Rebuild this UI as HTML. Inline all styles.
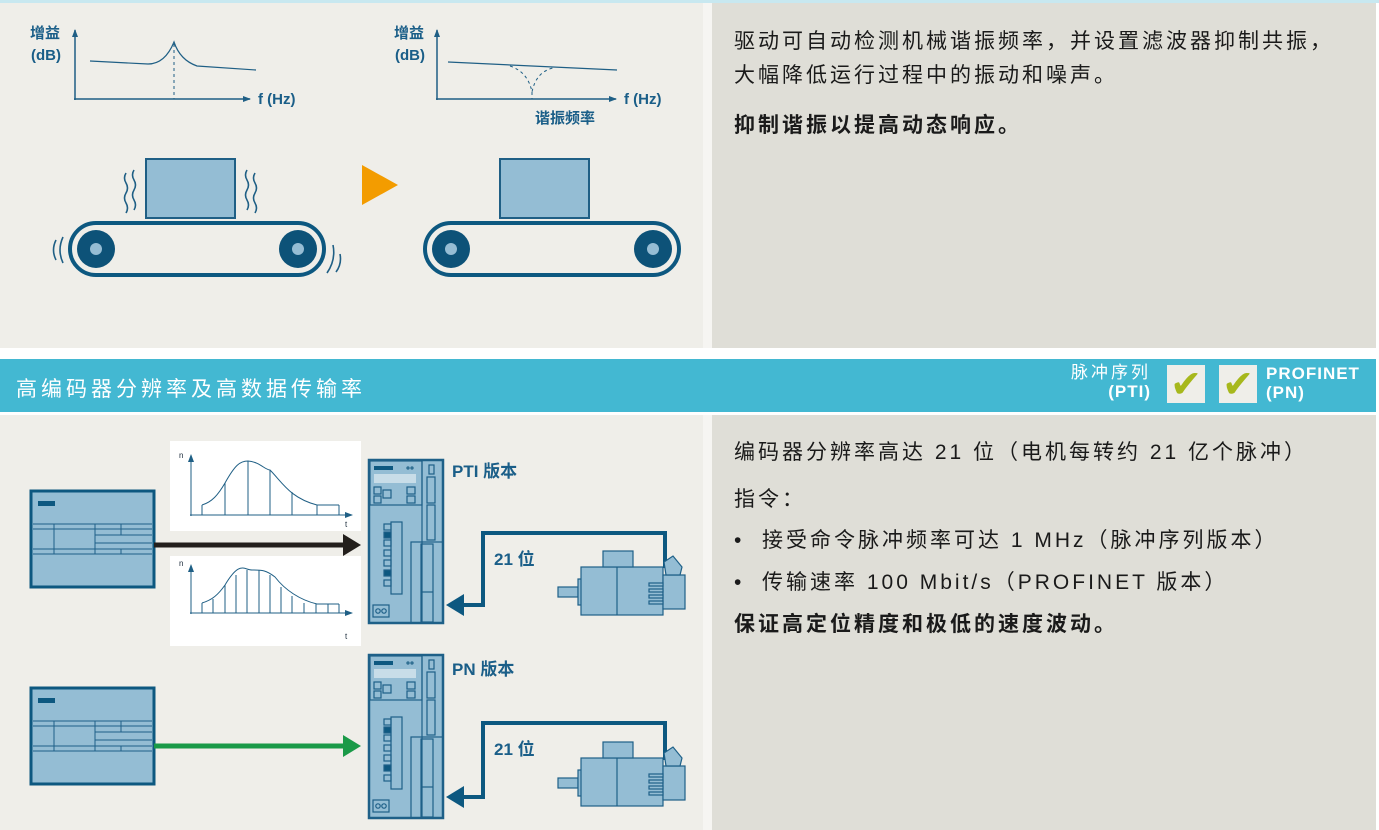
<!DOCTYPE html>
<html><head><meta charset="utf-8"><style>
html,body{margin:0;padding:0;background:#fff;}
body{width:1379px;height:830px;position:relative;overflow:hidden;font-family:"Liberation Sans","Noto Sans CJK SC",sans-serif;}
.t{position:absolute;font-size:21px;letter-spacing:3px;color:#1a1a1a;white-space:nowrap;font-family:"Liberation Sans","Noto Sans CJK SC",sans-serif;}
.b{font-weight:bold;}
</style></head><body>
<div style="position:absolute;left:0;top:0;width:1379px;height:3px;background:#c8e8f0"></div>
<div style="position:absolute;left:0;top:3px;width:703px;height:345px;background:#efeee9"></div>
<div style="position:absolute;left:703px;top:3px;width:9px;height:345px;background:#f6f5f2"></div>
<div style="position:absolute;left:712px;top:3px;width:664px;height:345px;background:#dfded7"></div>
<div style="position:absolute;left:0;top:359px;width:1376px;height:53px;background:#43b8d2"></div>
<div style="position:absolute;left:0;top:415px;width:703px;height:415px;background:#efeee9"></div>
<div style="position:absolute;left:703px;top:415px;width:9px;height:415px;background:#f6f5f2"></div>
<div style="position:absolute;left:712px;top:415px;width:664px;height:415px;background:#dfded7"></div>

<div class="t" style="left:734px;top:25px;">驱动可自动检测机械谐振频率，并设置滤波器抑制共振，</div>
<div class="t" style="left:734px;top:59px;">大幅降低运行过程中的振动和噪声。</div>
<div class="t b" style="left:734px;top:109px;">抑制谐振以提高动态响应。</div>

<div class="t" style="left:16px;top:373px;color:#fff;font-size:21px;letter-spacing:4px;">高编码器分辨率及高数据传输率</div>
<div class="t" style="left:1071px;top:363px;color:#fff;font-size:17px;letter-spacing:3px;line-height:19px;text-align:right;">脉冲序列<br><span class="b" style="letter-spacing:1px">(PTI)</span></div>
<div style="position:absolute;left:1167px;top:365px;width:38px;height:38px;background:#efeee9;color:#a7b81c;font-size:38px;line-height:40px;text-align:center;">✔</div>
<div style="position:absolute;left:1219px;top:365px;width:38px;height:38px;background:#efeee9;color:#a7b81c;font-size:38px;line-height:40px;text-align:center;">✔</div>
<div class="t b" style="left:1266px;top:364px;color:#fff;font-size:17px;letter-spacing:1px;line-height:19px;">PROFINET<br>(PN)</div>

<div class="t" style="left:734px;top:436px;">编码器分辨率高达 21 位（电机每转约 21 亿个脉冲）</div>
<div class="t" style="left:734px;top:483px;">指令：</div>
<div class="t" style="left:734px;top:524px;">•&nbsp; 接受命令脉冲频率可达 1 MHz（脉冲序列版本）</div>
<div class="t" style="left:734px;top:566px;">•&nbsp; 传输速率 100 Mbit/s（PROFINET 版本）</div>
<div class="t b" style="left:734px;top:608px;">保证高定位精度和极低的速度波动。</div>

<svg width="1379" height="830" style="position:absolute;left:0;top:0" xmlns="http://www.w3.org/2000/svg" font-family="Liberation Sans, Noto Sans CJK SC, sans-serif">
<defs>
<marker id="ah" markerWidth="8" markerHeight="8" refX="7" refY="4" orient="auto" markerUnits="userSpaceOnUse"><path d="M0,1 L8,4 L0,7z" fill="#1f5f85"/></marker>
<g id="conv">
 <rect x="0" y="0" width="254" height="52" rx="26" fill="none" stroke="#0d5880" stroke-width="4"/>
 <circle cx="26" cy="26" r="19" fill="#0d5278"/><circle cx="26" cy="26" r="6" fill="#96bdd4"/>
 <circle cx="228" cy="26" r="19" fill="#0d5278"/><circle cx="228" cy="26" r="6" fill="#96bdd4"/>
</g>
<g id="plc" stroke="#1e6088" fill="none">
 <rect x="0" y="0" width="123" height="96" fill="#94bdd4" stroke="#0d5880" stroke-width="3"/>
 <rect x="7" y="10" width="17" height="5" fill="#0d5880" stroke="none"/>
 <line x1="2" y1="33" x2="121" y2="33"/><line x1="2" y1="38" x2="121" y2="38"/>
 <line x1="64" y1="44" x2="121" y2="44"/><line x1="64" y1="52" x2="121" y2="52"/>
 <line x1="2" y1="58" x2="121" y2="58"/><line x1="2" y1="63" x2="121" y2="63"/>
 <line x1="23" y1="33" x2="23" y2="63"/><line x1="64" y1="33" x2="64" y2="63"/>
 <line x1="90" y1="33" x2="90" y2="44"/><line x1="90" y1="58" x2="90" y2="63"/>
</g>
<g id="drive" stroke="#1e6088" fill="none" stroke-width="1.2">
 <rect x="0" y="0" width="74" height="163" fill="#94bdd4" stroke="#1e6088" stroke-width="2.5"/>
 <rect x="1" y="1" width="52" height="44"/>
 <rect x="5" y="6" width="19" height="4" fill="#0d5880" stroke="none"/>
 <circle cx="39" cy="8" r="1" fill="#cfe"/><circle cx="43" cy="8" r="1" fill="#cfe"/>
 <rect x="5" y="14" width="42" height="9" fill="#c8dde8" stroke="none"/>
 <rect x="5" y="27" width="7" height="7"/><rect x="5" y="36" width="7" height="7"/><rect x="14" y="30" width="8" height="8"/>
 <rect x="38" y="27" width="8" height="7"/><rect x="38" y="36" width="8" height="7"/>
 <line x1="53" y1="0" x2="53" y2="163"/>
 <rect x="60" y="5" width="5" height="9"/><rect x="58" y="17" width="8" height="26"/><rect x="58" y="45" width="8" height="35"/>
 <rect x="42" y="82" width="32" height="81"/><rect x="52" y="84" width="12" height="78"/><line x1="52" y1="132" x2="64" y2="132"/>
 <rect x="22" y="62" width="11" height="72"/>
 <rect x="15" y="64" width="7" height="6"/><rect x="15" y="72" width="7" height="6" fill="#0d5880"/><rect x="15" y="80" width="7" height="6"/><rect x="15" y="90" width="7" height="6"/><rect x="15" y="100" width="7" height="6"/><rect x="15" y="110" width="7" height="6" fill="#0d5880"/><rect x="15" y="120" width="7" height="6"/>
 <rect x="4" y="145" width="16" height="12"/><circle cx="9" cy="151" r="2.2"/><circle cx="15" cy="151" r="2.2"/>
</g>
<g id="motor" stroke="#1e6088" stroke-width="1.2" fill="#94bdd4">
 <rect x="0" y="32" width="20" height="10"/>
 <rect x="20" y="24" width="6" height="26"/>
 <rect x="23" y="12" width="82" height="48"/>
 <line x1="59" y1="12" x2="59" y2="60" fill="none"/>
 <rect x="45" y="-4" width="30" height="16"/>
 <rect x="105" y="20" width="22" height="34"/>
 <path d="M106 7 L115 1 L124 12 L122 20 L108 20z"/>
 <rect x="91" y="28" width="14" height="3"/><rect x="91" y="34" width="14" height="3"/><rect x="91" y="40" width="14" height="3"/><rect x="91" y="46" width="14" height="3"/>
</g>
</defs>

<g fill="#1a5e88" font-size="15" font-weight="bold">
 <text x="30" y="38">增益</text><text x="31" y="60">(dB)</text>
 <text x="258" y="104">f (Hz)</text>
 <text x="394" y="38">增益</text><text x="395" y="60">(dB)</text>
 <text x="624" y="104">f (Hz)</text>
 <text x="535" y="123">谐振频率</text>
</g>
<g stroke="#1f5f85" fill="none" stroke-width="1.5">
 <path d="M75 100 V30" marker-end="url(#ah)"/><path d="M74 99 H250" marker-end="url(#ah)"/>
 <path d="M90 61 L148 64 Q165 64 174 42 Q180 60 197 66 L256 70" stroke-width="1.2"/>
 <path d="M174 44 V99" stroke-dasharray="3,3" stroke-width="1"/>
 <path d="M437 100 V30" marker-end="url(#ah)"/><path d="M436 99 H616" marker-end="url(#ah)"/>
 <path d="M448 62 L617 70" stroke-width="1.2"/>
 <path d="M510 66 Q528 72 532 92 Q536 72 553 68" stroke-dasharray="3,3" stroke-width="1"/>
 <path d="M532 92 V99" stroke-dasharray="3,3" stroke-width="1"/>
</g>
<rect x="146" y="159" width="89" height="59" fill="#94bdd4" stroke="#1f5f85" stroke-width="2"/>
<rect x="500" y="159" width="89" height="59" fill="#94bdd4" stroke="#1f5f85" stroke-width="2"/>
<use href="#conv" x="70" y="223"/>
<use href="#conv" x="425" y="223"/>
<g stroke="#1f5f85" fill="none" stroke-width="1.6">
 <path d="M126 173 q-3 5 0 10 q3 5 0 10 q-3 5 0 10 q3 5 0 10"/>
 <path d="M134 170 q-3 5 0 10 q3 5 0 10 q-3 5 0 10 q3 5 0 10"/>
 <path d="M247 170 q-3 5 0 10 q3 5 0 10 q-3 5 0 10 q3 5 0 10"/>
 <path d="M255 173 q-3 5 0 10 q3 5 0 10 q-3 5 0 10 q3 5 0 10"/>
 <path d="M56 240 q-5 10 0 20"/><path d="M63 237 q-6 13 0 26"/>
 <path d="M333 245 q3 15 -6 28"/><path d="M340 254 q2 10 -4 18"/>
</g>
<path d="M362 165 L398 185 L362 205z" fill="#f39c00"/>

<use href="#plc" x="31" y="491"/>
<use href="#plc" x="31" y="688"/>
<rect x="170" y="441" width="191" height="90" fill="#fff"/>
<rect x="170" y="556" width="191" height="90" fill="#fff"/>
<g stroke="#1f5f85" fill="none" stroke-width="1">
 <path d="M191 516 V455" marker-end="url(#ah)"/><path d="M190 515 H352" marker-end="url(#ah)"/>
 <path d="M202 505 C212 502 218 495 225 483 C235 465 240 461 248 461 C260 462 265 470 270 470 C282 482 290 498 317 505 L339 505"/>
 <path d="M202 505V515M225 483V515M248 461V515M270 470V515M292 492V515M317 505V515M339 505V515"/>
 <path d="M191 614 V565" marker-end="url(#ah)"/><path d="M190 613 H352" marker-end="url(#ah)"/>
 <path d="M202 603 C212 600 218 595 225 585 C240 560 244 570 252 570 C262 570 266 570 275 577 C285 590 300 600 317 604 L339 604"/>
 <path d="M202 603V613M213 599V613M225 585V613M236 575V613M247 570V613M259 570V613M270 575V613M281 587V613M292 596V613M304 603V613M316 604V613M328 604V613M339 604V613"/>
</g>
<g fill="#1a2a3a" font-size="8"><text x="179" y="458">n</text><text x="345" y="527">t</text><text x="179" y="566">n</text><text x="345" y="639">t</text></g>
<path d="M154 545 H346" stroke="#231f1c" stroke-width="5"/><path d="M343 534 L361 545 L343 556z" fill="#231f1c"/>
<path d="M154 746 H346" stroke="#1a9a48" stroke-width="5"/><path d="M343 735 L361 746 L343 757z" fill="#1a9a48"/>
<use href="#drive" x="369" y="460"/>
<use href="#drive" x="369" y="655"/>
<g fill="#1a5e88" font-size="17" font-weight="bold">
 <text x="452" y="477">PTI 版本</text><text x="452" y="675">PN 版本</text>
 <text x="494" y="565">21 位</text><text x="494" y="755">21 位</text>
</g>
<g stroke="#0d5880" stroke-width="4" fill="none">
 <path d="M665 568 V533 H483 V605 H462"/>
 <path d="M665 760 V723 H483 V797 H462"/>
</g>
<path d="M446 605 L464 594 L464 616z" fill="#0d5880"/>
<path d="M446 797 L464 786 L464 808z" fill="#0d5880"/>
<use href="#motor" x="558" y="555"/>
<use href="#motor" x="558" y="746"/>
</svg>
</body></html>
